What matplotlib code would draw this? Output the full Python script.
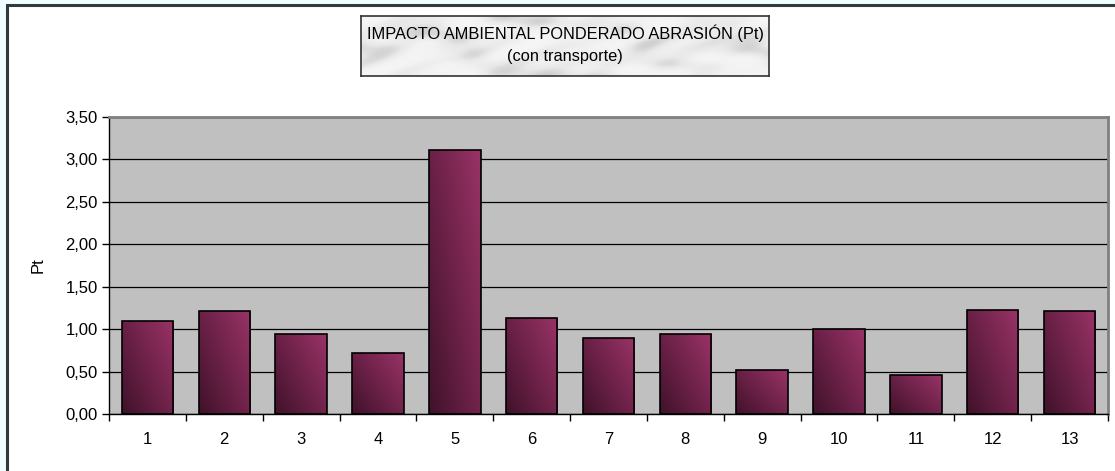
import numpy as np
import matplotlib
matplotlib.use('Agg')
import matplotlib.pyplot as plt
from matplotlib.patches import Rectangle
from matplotlib.colors import LinearSegmentedColormap
from matplotlib.ticker import FuncFormatter, FixedLocator

plt.rcParams['font.family'] = ['Liberation Sans', 'DejaVu Sans']

categories = [str(i) for i in range(1, 14)]
values = [1.10, 1.21, 0.94, 0.72, 3.11, 1.13, 0.90, 0.94, 0.52, 1.00, 0.46, 1.23, 1.21]
title_line1 = 'IMPACTO AMBIENTAL PONDERADO ABRASIÓN (Pt)'
title_line2 = '(con transporte)'
y_label = 'Pt'

W, H = 1115, 471
fig = plt.figure(figsize=(W / 100, H / 100), dpi=100)
fig.patch.set_facecolor('#f0ffff')

# white chart area with dark border (right/bottom edges run off the image)
fig.add_artist(Rectangle((7 / W, -0.05), 1.1, (H - 5) / H + 0.05, transform=fig.transFigure,
                         facecolor='white', edgecolor='#333a3a', lw=2.2, zorder=0))

ax = fig.add_axes([109 / W, 57 / H, 999 / W, 297 / H])
ax.set_facecolor('#c0c0c0')
x = np.arange(1, len(values) + 1)
bars = ax.bar(x, values, width=0.67, color='none', edgecolor='black', lw=1.2, zorder=3)

# diagonal gradient: dark bottom-left -> plum top-right
cmap = LinearSegmentedColormap.from_list('plum', ['#3f1229', '#6e2249', '#993366'])
gy, gx = np.mgrid[0:1:100j, 0:1:100j]
grad = (gx * 0.55 + gy * 0.45)
for b in bars:
    x0, y0 = b.get_x(), b.get_y()
    im = ax.imshow(grad, cmap=cmap, origin='lower', aspect='auto', zorder=2,
                   extent=[x0, x0 + b.get_width(), y0, y0 + b.get_height()])
    im.set_clip_path(b)

ax.set_xlim(0.5, 13.5)
ax.set_ylim(0, 3.5)
ax.set_yticks(np.arange(0, 3.51, 0.5))
ax.yaxis.set_major_formatter(FuncFormatter(lambda v, p: f'{v:.2f}'.replace('.', ',')))
ax.yaxis.grid(True, color='black', lw=0.9, zorder=1)
ax.set_axisbelow(True)

ax.xaxis.set_major_locator(FixedLocator(np.arange(0.5, 13.6, 1)))
ax.xaxis.set_minor_locator(FixedLocator(x))
ax.set_xticklabels([], minor=False)
ax.set_xticklabels(categories, minor=True)
ax.tick_params(axis='x', which='major', length=5, width=1, direction='out')
ax.tick_params(axis='x', which='minor', length=0, pad=13, labelsize=12)
ax.tick_params(axis='y', length=5, width=1, direction='out', labelsize=12, pad=3)

for s in ['top', 'right']:
    ax.spines[s].set_color('#808080')
    ax.spines[s].set_linewidth(2)
for s in ['left', 'bottom']:
    ax.spines[s].set_color('black')
    ax.spines[s].set_linewidth(1)

fig.text(38 / W, 1 - 265 / H, y_label, rotation=90, ha='center', va='center', fontsize=12)

# title box with light marble-like fill
tax = fig.add_axes([361 / W, 1 - 76 / H, 408 / W, 60 / H])
ty, tx = np.mgrid[0:1:60j, 0:1:408j]
marble = (np.sin(tx * 23 + np.sin(ty * 7 + tx * 5) * 2.5) * 0.4
          + np.sin(tx * 9 - ty * 6 + np.cos(tx * 17) * 1.5) * 0.4
          + np.sin(tx * 51 + ty * 13) * 0.2)
tax.imshow(marble, cmap=LinearSegmentedColormap.from_list('m', ['#cfcfcf', '#e8e8e8', '#f2f2f2', '#f6f6f6']),
           aspect='auto', extent=[0, 1, 0, 1], zorder=0)
tax.set_xticks([])
tax.set_yticks([])
for s in tax.spines.values():
    s.set_color('#333333')
    s.set_linewidth(1.2)
tax.text(0.5, 1 - 17 / 60, title_line1, ha='center', va='center', fontsize=11.8, transform=tax.transAxes)
tax.text(0.5, 1 - 40 / 60, title_line2, ha='center', va='center', fontsize=11.8, transform=tax.transAxes)

fig.savefig('out.png', dpi=100, facecolor=fig.get_facecolor())
